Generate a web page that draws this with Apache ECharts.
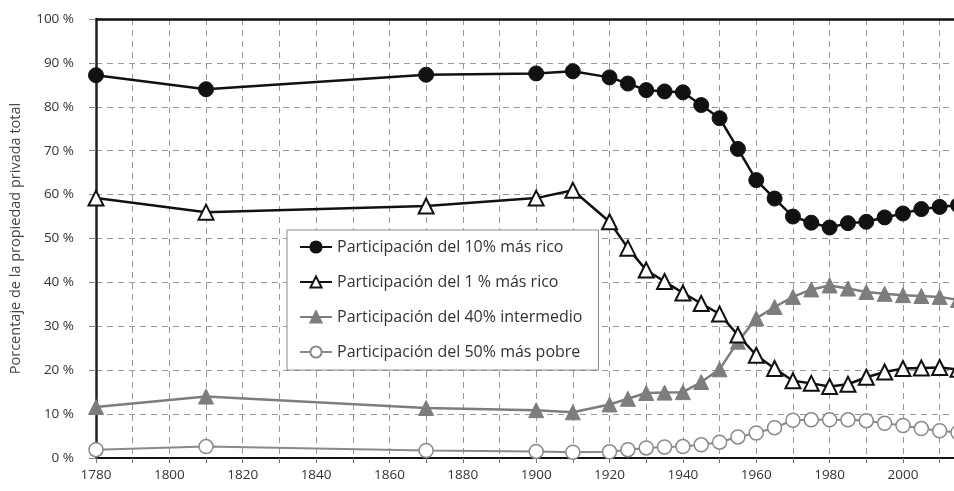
<!DOCTYPE html>
<html>
<head>
<meta charset="utf-8">
<script src="https://cdn.jsdelivr.net/npm/echarts@6/dist/echarts.min.js"></script>
<style>html,body{margin:0;padding:0;background:#fff}#c{width:954px;height:491px}</style>
</head>
<body>
<div id="c"></div>
<script>
const years = [1780,1810,1870,1900,1910,1920,1925,1930,1935,1940,1945,1950,1955,1960,1965,1970,1975,1980,1985,1990,1995,2000,2005,2010,2015];
const top10 = [87.2,84.0,87.3,87.6,88.1,86.7,85.3,83.8,83.5,83.3,80.4,77.4,70.4,63.3,59.1,55.0,53.6,52.5,53.5,53.8,54.8,55.7,56.7,57.2,57.6];
const top1 = [59.2,56.0,57.4,59.2,61.0,53.8,47.8,42.8,40.2,37.6,35.2,32.8,28.0,23.4,20.4,17.6,17.0,16.3,16.8,18.4,19.6,20.4,20.5,20.6,20.2];
const mid40 = [11.6,14.0,11.4,10.9,10.4,12.2,13.5,14.8,14.9,15.0,17.3,20.2,26.5,31.8,34.4,36.7,38.4,39.3,38.6,37.8,37.4,37.1,36.9,36.7,36.0];
const bottom50 = [1.9,2.6,1.7,1.5,1.3,1.4,1.9,2.3,2.5,2.6,3.0,3.6,4.8,5.7,6.9,8.6,8.7,8.7,8.7,8.5,7.9,7.4,6.7,6.2,5.8];
const seriesNames = ['Participación del 10% más rico','Participación del 1 % más rico','Participación del 40% intermedio','Participación del 50% más pobre'];
const yTicks = [0,10,20,30,40,50,60,70,80,90,100];

const pair = arr => years.map((y,i)=>[y,arr[i]]);
const FONT = '"Open Sans", "Noto Sans", sans-serif';
const chart = echarts.init(document.getElementById('c'), null, {renderer:'canvas'});
chart.setOption({
  animation:false,
  backgroundColor:'#fff',
  grid:{left:96,right:-4,top:19,bottom:33,containLabel:false,outerBoundsMode:'none'},
  legend:{
    orient:'vertical', left:287, top:230,
    backgroundColor:'#fff', borderColor:'#888', borderWidth:1,
    padding:[9,16,10,12], itemGap:19, itemWidth:32, itemHeight:14,
    textStyle:{fontFamily:FONT,fontSize:16,color:'#333'},
    data:seriesNames
  },
  xAxis:[{
    type:'value', min:1780, max:2015, interval:10,
    axisLine:{show:true,onZero:false,lineStyle:{color:'#111',width:2}},
    axisTick:{show:true,length:5,lineStyle:{color:'#777'}},
    axisLabel:{margin:10,fontFamily:FONT,fontSize:13.5,color:'#333',
      formatter:v=> (v%20===0 && v<2010) ? String(v) : ''},
    splitLine:{show:true,lineStyle:{color:'#999',type:[6,5],width:1}}
  },{
    type:'value', position:'top', min:1780, max:2015,
    axisLine:{show:true,onZero:false,lineStyle:{color:'#111',width:2.5}},
    axisTick:{show:false}, axisLabel:{show:false}, splitLine:{show:false}
  }],
  yAxis:{
    type:'value', min:0, max:100, interval:10,
    name:'Porcentaje de la propiedad privada total',
    nameLocation:'middle', nameGap:73,
    nameTextStyle:{fontFamily:FONT,fontSize:14.5,color:'#444'},
    axisLine:{show:true,lineStyle:{color:'#222',width:2.5}},
    axisTick:{show:true,length:7,lineStyle:{color:'#888'}},
    axisLabel:{margin:22,fontFamily:FONT,fontSize:13.5,color:'#333',formatter:v=>v+' %'},
    splitLine:{show:true,lineStyle:{color:'#999',type:[6,5],width:1}}
  },
  series:[
    {name:seriesNames[0],type:'line',data:pair(top10),symbol:'circle',symbolSize:15,
      lineStyle:{color:'#111',width:2.5},itemStyle:{color:'#111',borderColor:'#111',borderWidth:1},z:5},
    {name:seriesNames[1],type:'line',data:pair(top1),symbol:'triangle',symbolSize:15,
      lineStyle:{color:'#111',width:2.5},itemStyle:{color:'#fff',borderColor:'#111',borderWidth:2},z:4},
    {name:seriesNames[2],type:'line',data:pair(mid40),symbol:'triangle',symbolSize:15,
      lineStyle:{color:'#7d7d7d',width:2.5},itemStyle:{color:'#7d7d7d',borderColor:'#7d7d7d',borderWidth:1},z:3},
    {name:seriesNames[3],type:'line',data:pair(bottom50),symbol:'circle',symbolSize:14,
      lineStyle:{color:'#8a8a8a',width:2},itemStyle:{color:'#fff',borderColor:'#8a8a8a',borderWidth:1.5},z:2}
  ]
});
</script>
</body>
</html>
